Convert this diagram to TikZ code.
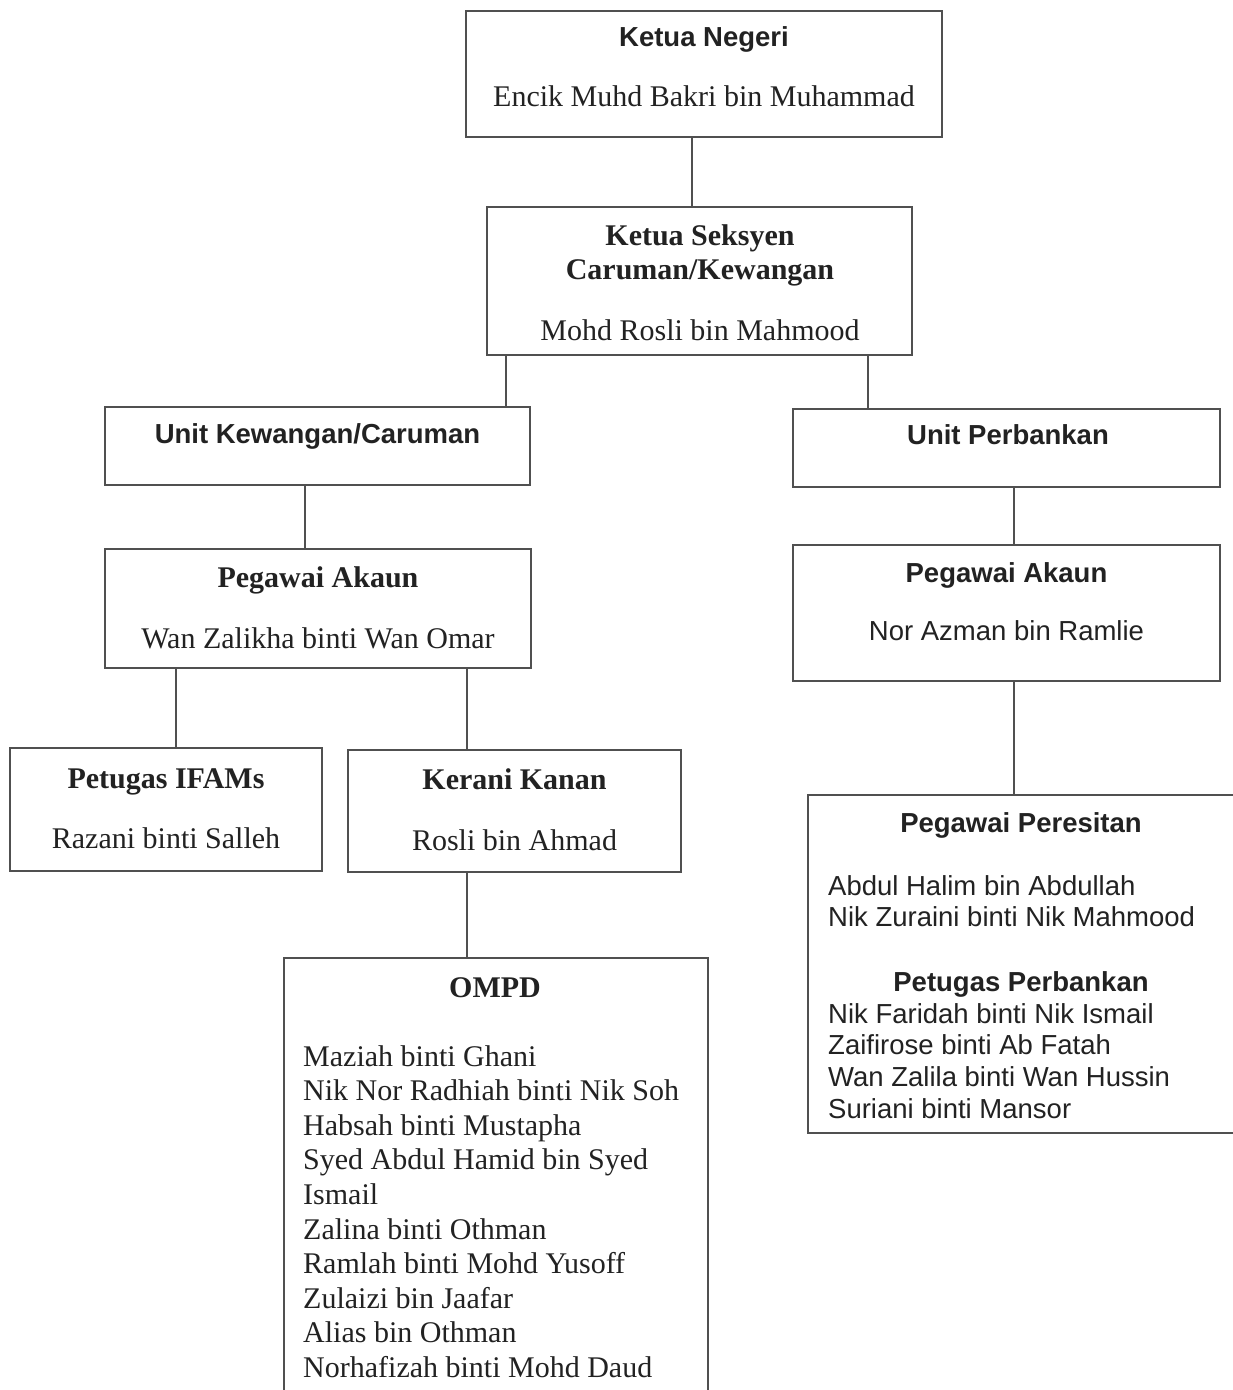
\documentclass[tikz,border=0pt]{standalone}
\usepackage{fontspec}
\setmainfont{Liberation Serif}
\setsansfont{Liberation Sans}
\definecolor{ink}{HTML}{222222}
\definecolor{rule}{HTML}{505050}
\begin{document}
\begin{tikzpicture}[x=1pt,y=-1pt,
  box/.style={draw=rule, line width=1.8pt, rectangle, inner sep=0pt, fill=none},
  link/.style={draw=rule, line width=1.6pt},
  rm/.style={text=ink, inner sep=0pt, anchor=base, font=\fontsize{30}{34.6}\selectfont},
  rmb/.style={rm, font=\fontsize{30}{34.6}\selectfont\bfseries},
  sf/.style={text=ink, inner sep=0pt, anchor=base, font=\fontsize{27.5}{31.8}\selectfont\sffamily},
  sfb/.style={sf, font=\fontsize{27.5}{31.8}\selectfont\sffamily\bfseries},
  rmlist/.style={rm, anchor=base west, align=left},
  sflist/.style={sf, anchor=base west, align=left}]
\useasboundingbox[fill=white] (0,0) rectangle (1232,1390);

% boxes
\node[box, minimum width=476, minimum height=126] (kn)  at (704,74) {};
\node[box, minimum width=425, minimum height=148] (ks)  at (699.5,281) {};
\node[box, minimum width=425, minimum height=78]  (uk)  at (317.5,446) {};
\node[box, minimum width=427, minimum height=78]  (up)  at (1006.5,448) {};
\node[box, minimum width=426, minimum height=119] (pal) at (318,608.5) {};
\node[box, minimum width=427, minimum height=136] (par) at (1006.5,613) {};
\node[box, minimum width=312, minimum height=123] (pi)  at (166,809.5) {};
\node[box, minimum width=333, minimum height=122] (kk)  at (514.5,811) {};
\node[box, minimum width=424, minimum height=462] (om)  at (496,1189) {};
\node[box, minimum width=426, minimum height=338] (pp)  at (1021,964) {};

% connectors
\draw[link] (kn.south -| 692,0) -- (ks.north -| 692,0);
\draw[link] (ks.south -| 506,0) -- (uk.north -| 506,0);
\draw[link] (ks.south -| 868,0) -- (up.north -| 868,0);
\draw[link] (uk.south -| 305,0) -- (pal.north -| 305,0);
\draw[link] (up.south -| 1014,0) -- (par.north -| 1014,0);
\draw[link] (pal.south -| 176,0) -- (pi.north -| 176,0);
\draw[link] (pal.south -| 467,0) -- (kk.north -| 467,0);
\draw[link] (kk.south -| 467,0) -- (om.north -| 467,0);
\draw[link] (par.south -| 1014,0) -- (pp.north -| 1014,0);

% texts (multi-line nodes sit on the baseline of their last line)
\node[sfb] (knT) at (704,46) {Ketua Negeri};
\node[rm]  (knN) at (704,106) {Encik Muhd Bakri bin Muhammad};

\node[rmb] (ksT1) at (700,245) {Ketua Seksyen};
\node[rmb] (ksT2) at (700,279) {Caruman/Kewangan};
\node[rm]  (ksN)  at (700,340) {Mohd Rosli bin Mahmood};

\node[sfb] (ukT) at (317.5,443) {Unit Kewangan/Caruman};
\node[sfb] (upT) at (1008,444) {Unit Perbankan};

\node[rmb] (palT) at (318,587) {Pegawai Akaun};
\node[rm]  (palN) at (318,648) {Wan Zalikha binti Wan Omar};

\node[sfb] (parT) at (1006.5,582) {Pegawai Akaun};
\node[sf]  (parN) at (1006.5,640) {Nor Azman bin Ramlie};

\node[rmb] (piT) at (166,788) {Petugas IFAMs};
\node[rm]  (piN) at (166,848) {Razani binti Salleh};

\node[rmb] (kkT) at (514.5,789) {Kerani Kanan};
\node[rm]  (kkN) at (514.5,850) {Rosli bin Ahmad};

\node[rmb] (omT) at (495,997) {OMPD};
\node[rmlist] (omL) at (303,1377.4) {Maziah binti Ghani\\
  Nik Nor Radhiah binti Nik Soh\\
  Habsah binti Mustapha\\
  Syed Abdul Hamid bin Syed\\
  Ismail\\
  Zalina binti Othman\\
  Ramlah binti Mohd Yusoff\\
  Zulaizi bin Jaafar\\
  Alias bin Othman\\
  Norhafizah binti Mohd Daud};

\node[sfb] (ppT) at (1021,832) {Pegawai Peresitan};
\node[sflist] (ppL1) at (828,926.8) {Abdul Halim bin Abdullah\\
  Nik Zuraini binti Nik Mahmood};
\node[sfb] (ppT2) at (1021,991) {Petugas Perbankan};
\node[sflist] (ppL2) at (828,1118.4) {Nik Faridah binti Nik Ismail\\
  Zaifirose binti Ab Fatah\\
  Wan Zalila binti Wan Hussin\\
  Suriani binti Mansor};
\end{tikzpicture}
\end{document}
